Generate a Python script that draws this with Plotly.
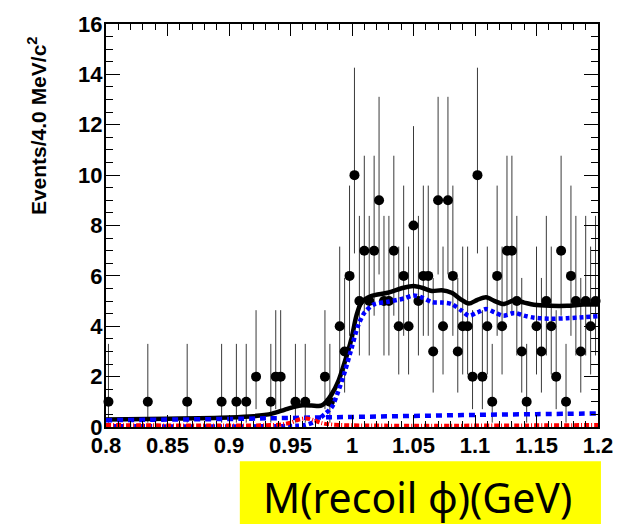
import plotly.graph_objects as go

# ---- data ----
bin_index = [0, 8, 16, 23, 26, 28, 30, 33, 34, 35, 38, 40, 44, 45, 47, 48, 49, 50,
             51, 52, 53, 54, 55, 56, 57, 58, 59, 60, 61, 62, 63, 64, 65, 66, 67, 68,
             69, 70, 71, 72, 73, 74, 75, 76, 77, 78, 79, 80, 81, 82, 83, 84, 85, 87,
             88, 89, 90, 91, 92, 93, 94, 95, 96, 97, 98, 99]
counts = [1, 1, 1, 1, 1, 1, 2, 1, 2, 2, 1, 1, 2, 1, 4, 3, 6, 10,
          5, 7, 5, 7, 9, 5, 5, 7, 4, 6, 4, 8, 5, 6, 6, 3, 9, 4,
          9, 6, 3, 4, 4, 2, 10, 2, 4, 1, 6, 4, 7, 7, 5, 3, 1, 4,
          3, 5, 4, 2, 7, 1, 6, 5, 3, 5, 4, 5]
bin_low, bin_width = 0.8, 0.004

# Poisson (Garwood 68%) error table indexed by count
pois_err_lo = [0.0, 0.827, 1.292, 1.633, 1.914, 2.160, 2.380, 2.581, 2.768, 2.943, 3.108]
pois_err_hi = [1.148, 2.300, 2.638, 2.918, 3.163, 3.382, 3.584, 3.770, 3.945, 4.109, 4.265]

# total fit (black solid)
tot_x = [0.800, 0.850, 0.900, 0.920, 0.935, 0.945, 0.953, 0.960, 0.967, 0.973, 0.9756,
         0.979, 0.9836, 0.989, 0.9943, 0.9996, 1.0036, 1.0076, 1.0156, 1.029, 1.042,
         1.050, 1.057, 1.065, 1.073, 1.081, 1.089, 1.095, 1.102, 1.109, 1.116, 1.123,
         1.132, 1.140, 1.148, 1.161, 1.175, 1.188, 1.200]
tot_y = [0.30, 0.33, 0.38, 0.43, 0.53, 0.68, 0.80, 0.86, 0.85, 0.83, 0.86,
         1.00, 1.31, 1.83, 2.61, 3.51, 4.42, 4.94, 5.20, 5.33, 5.53,
         5.60, 5.53, 5.40, 5.43, 5.33, 5.05, 4.90, 5.05, 5.15, 5.00, 4.88,
         5.03, 4.94, 4.85, 4.81, 4.81, 4.86, 4.86]

# signal component (blue dotted)
sig_x = [0.800, 0.950, 0.962, 0.970, 0.9782, 0.9836, 0.989, 0.9943, 0.9996, 1.005,
         1.0103, 1.0183, 1.029, 1.042, 1.050, 1.057, 1.065, 1.073, 1.081, 1.089,
         1.095, 1.102, 1.109, 1.116, 1.123, 1.132, 1.140, 1.148, 1.161, 1.175, 1.188, 1.200]
sig_y = [0.03, 0.04, 0.08, 0.22, 0.53, 0.79, 1.44, 2.22, 3.12, 4.03,
         4.55, 4.88, 4.97, 5.10, 5.22, 5.14, 4.96, 4.94, 4.88, 4.62,
         4.42, 4.55, 4.68, 4.55, 4.42, 4.53, 4.42, 4.34, 4.30, 4.32, 4.36, 4.40]

# smooth background (blue dashed)
bkg_x = [0.80, 0.90, 0.95, 1.00, 1.05, 1.10, 1.15, 1.20]
bkg_y = [0.27, 0.32, 0.36, 0.40, 0.44, 0.48, 0.51, 0.54]

# peaking background (red dash-dot)
pk_x = [0.800, 0.940, 0.950, 0.957, 0.963, 0.969, 0.975, 0.985, 1.200]
pk_y = [0.08, 0.09, 0.17, 0.30, 0.34, 0.27, 0.16, 0.09, 0.08]

x_ticks_dtick = 0.05
y_title = "Events/4.0 MeV/c<sup>2</sup>"
x_title = "M(recoil \u03d5)(GeV)"

# ---- figure ----
W, H = 625, 525
ML, MR, MT, MB = 106, 19, 16, 98
PW, PH = W - ML - MR, H - MT - MB

def px_to_paper_x(px):
    return (px - ML) / PW

def px_to_paper_y(py):
    return (H - MB - py) / PH

xs = [bin_low + bin_width * (k + 0.5) for k in bin_index]
eh = [pois_err_hi[c] for c in counts]
el = [pois_err_lo[c] for c in counts]

fig = go.Figure()
fig.add_trace(go.Scatter(
    x=xs, y=counts, mode="markers",
    marker=dict(color="black", size=10, symbol="circle"),
    error_y=dict(type="data", symmetric=False, array=eh, arrayminus=el,
                 thickness=1, width=0, color="#3a3a3a"),
    cliponaxis=False, showlegend=False))
fig.add_trace(go.Scatter(x=tot_x, y=tot_y, mode="lines",
                         line=dict(color="black", width=4.5, shape="spline", smoothing=0.8),
                         showlegend=False))
fig.add_trace(go.Scatter(x=sig_x, y=sig_y, mode="lines",
                         line=dict(color="#0000ff", width=4.5, dash="4px,3px",
                                   shape="spline", smoothing=0.8),
                         showlegend=False))
fig.add_trace(go.Scatter(x=bkg_x, y=bkg_y, mode="lines",
                         line=dict(color="#0000ff", width=4.5, dash="6px,5px", shape="spline"),
                         showlegend=False))
fig.add_trace(go.Scatter(x=pk_x, y=pk_y, mode="lines",
                         line=dict(color="#ff0000", width=4, dash="5px,2px,1px,2px",
                                   shape="spline", smoothing=0.8),
                         showlegend=False))

tickfont = dict(family="Liberation Sans, Arial, sans-serif", size=22, color="black", weight="bold")
fig.update_xaxes(range=[0.8, 1.2], dtick=x_ticks_dtick, tick0=0.8,
                 ticks="inside", ticklen=12, tickwidth=1, tickcolor="black",
                 showline=True, linecolor="black", linewidth=2, mirror="allticks",
                 showgrid=False, zeroline=False, tickfont=tickfont, ticklabelstandoff=-2,
                 minor=dict(ticks="inside", ticklen=6, dtick=0.01, tickcolor="black", showgrid=False))
fig.update_yaxes(range=[0, 16], dtick=2, tick0=0,
                 ticks="inside", ticklen=14, tickwidth=1, tickcolor="black",
                 showline=True, linecolor="black", linewidth=2, mirror="allticks",
                 showgrid=False, zeroline=False, tickfont=tickfont, ticklabelstandoff=-3,
                 minor=dict(ticks="inside", ticklen=7, dtick=0.5, tickcolor="black", showgrid=False))

# yellow x-title box
fig.add_shape(type="rect", xref="paper", yref="paper",
              x0=px_to_paper_x(242), x1=px_to_paper_x(609),
              y0=px_to_paper_y(526), y1=px_to_paper_y(462),
              fillcolor="#ffff00", line=dict(width=0), layer="below")
fig.add_annotation(text=x_title, xref="paper", yref="paper",
                   x=px_to_paper_x(423), y=px_to_paper_y(498),
                   xanchor="center", yanchor="middle", showarrow=False,
                   font=dict(family="Noto Sans, Open Sans, sans-serif", size=41, color="black"))
fig.add_annotation(text=y_title, xref="paper", yref="paper",
                   x=px_to_paper_x(36), y=px_to_paper_y(120),
                   xanchor="center", yanchor="middle", showarrow=False, textangle=-90,
                   font=dict(family="Liberation Sans, Arial, sans-serif", size=21,
                             color="black", weight="bold"))

fig.update_layout(width=W, height=H, margin=dict(l=ML, r=MR, t=MT, b=MB, pad=0),
                  paper_bgcolor="white", plot_bgcolor="white")
fig.write_html("out.html")
